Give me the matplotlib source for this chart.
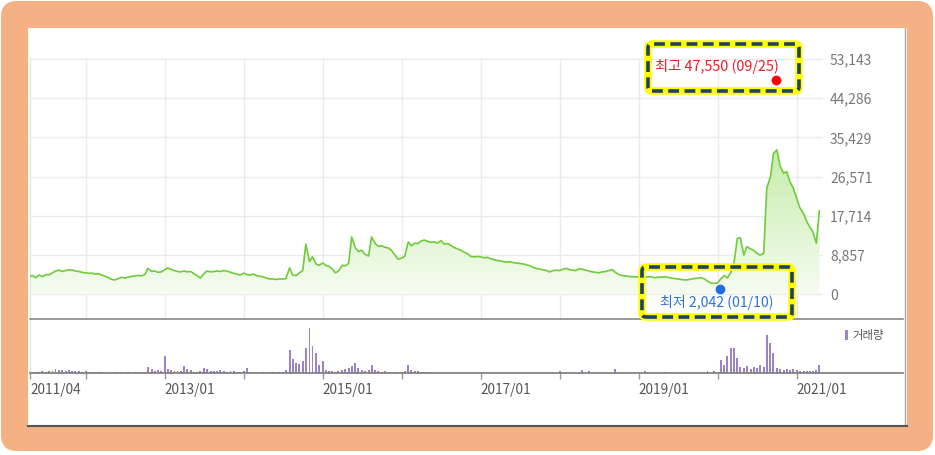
import numpy as np
import pandas as pd
import matplotlib
matplotlib.use('Agg')
import matplotlib.pyplot as plt
import matplotlib.dates as mdates
from matplotlib.patches import FancyBboxPatch, Rectangle
from matplotlib.lines import Line2D
from matplotlib.colors import LinearSegmentedColormap

plt.rcParams['font.family'] = ['Noto Sans CJK KR', 'DejaVu Sans']

# ---------------- data ----------------
start_date = '2011-04-15'   # semi-monthly samples
price = [
    3900, 4200, 3700, 4300, 3900, 4400, 4300, 4800, 5200, 5400,
    5100, 5300, 5500, 5400, 5200, 5100, 4900, 4800, 4700, 4700,
    4500, 4600, 4300, 4000, 3700, 3300, 3200, 3500, 3800, 3600,
    3800, 4000, 4100, 4200, 4100, 4400, 5800, 5100, 5200, 4900,
    5000, 5500, 5900, 5500, 5300, 5100, 5000, 5200, 5000, 5100,
    4600, 4100, 3600, 4600, 5200, 5000, 5100, 5200, 5100, 5300,
    5200, 4900, 4700, 4500, 4300, 4700, 4400, 4300, 4500, 4200,
    4000, 3900, 3600, 3400, 3400, 3300, 3400, 3400, 3500, 5900,
    4300, 4200, 4800, 5300, 11300, 7400, 8400, 6800, 6500, 7000,
    6500, 6200, 5600, 4800, 5200, 6500, 6400, 6900, 12900, 10500,
    9600, 9900, 9000, 8600, 12900, 11400, 10800, 10900, 10600, 10400,
    9900, 8800, 7900, 8100, 8500, 11800, 10900, 11500, 11400, 12000,
    12200, 11900, 11700, 11800, 11500, 12100, 11300, 11400, 11000, 10500,
    10200, 9900, 9500, 9100, 8500, 8400, 8500, 8400, 8200, 8300,
    8000, 7800, 7600, 7500, 7300, 7200, 7300, 7100, 7000, 6900,
    6800, 6600, 6400, 6000, 5800, 5600, 5500, 5300, 5000, 5300,
    5400, 5300, 5600, 5800, 5500, 5400, 5300, 5700, 5600, 5400,
    5200, 5000, 4900, 4800, 5000, 5100, 5300, 5500, 4900, 4400,
    4200, 4100, 4000, 3900, 3900, 3800, 3700, 3800, 3900, 3900,
    3700, 3800, 3800, 3900, 3800, 3600, 3500, 3400, 3300, 3200,
    3200, 3400, 3500, 3600, 3700, 3400, 2900, 2500, 2400, 2500,
    3400, 4200, 3600, 4800, 6500, 12600, 12700, 8800, 10700, 10200,
    9900, 9200, 8800, 9200, 24000, 26500, 31800, 32600, 29000, 27300,
    27700, 25300, 24000, 21500, 19500, 18200, 16500, 15200, 14200, 11500,
    18800,
]
volume = [
    0, 0, 1, 1, 2, 1, 2, 2, 4, 3,
    3, 2, 3, 2, 2, 2, 1, 2, 1, 1,
    1, 1, 1, 0, 0, 0, 1, 0, 1, 0,
    1, 0, 1, 1, 0, 1, 6, 4, 2, 3,
    2, 17, 4, 3, 2, 2, 2, 7, 4, 3,
    1, 1, 2, 5, 4, 2, 2, 2, 3, 2,
    1, 2, 2, 1, 1, 2, 5, 1, 0, 0,
    0, 1, 0, 1, 1, 0, 1, 1, 3, 23,
    14, 10, 9, 12, 25, 45, 27, 20, 8, 12,
    3, 2, 2, 1, 2, 3, 4, 5, 7, 10,
    5, 3, 2, 3, 8, 3, 2, 1, 2, 1,
    1, 1, 0, 1, 2, 8, 3, 2, 2, 1,
    1, 1, 1, 0, 0, 0, 0, 0, 0, 0,
    0, 0, 0, 0, 0, 0, 0, 0, 0, 0,
    0, 0, 0, 0, 0, 0, 0, 0, 0, 0,
    0, 0, 0, 0, 0, 0, 0, 0, 0, 0,
    0, 2, 0, 1, 0, 0, 0, 0, 3, 0,
    2, 0, 0, 0, 0, 0, 0, 0, 4, 0,
    0, 0, 0, 0, 0, 0, 0, 2, 0, 0,
    0, 0, 0, 1, 0, 0, 0, 0, 0, 0,
    0, 0, 0, 0, 0, 0, 2, 0, 2, 0,
    13, 8, 17, 25, 25, 15, 6, 5, 7, 4,
    6, 5, 8, 6, 38, 30, 20, 5, 4, 3,
    4, 3, 4, 3, 2, 2, 2, 2, 2, 3,
    8,
]
ytick_vals = [0, 8857, 17714, 26571, 35429, 44286, 53143]
ytick_labels = ['0', '8,857', '17,714', '26,571', '35,429', '44,286', '53,143']
grid_years = ['2012-01-01', '2013-01-01', '2014-01-01', '2015-01-01', '2016-01-01',
              '2017-01-01', '2018-01-01', '2019-01-01', '2020-01-01', '2021-01-01']
xtick_dates = ['2011-04-19'] + grid_years
xtick_labels = ['2011/04', '', '2013/01', '', '2015/01', '', '2017/01', '', '2019/01', '', '2021/01']
hi_text = '최고 47,550 (09/25)'
hi_date, hi_mark = '2020-09-25', 48400
lo_text = '최저 2,042 (01/10)'
lo_date, lo_mark = '2020-01-10', 1100
vol_label = '거래량'

# ---------------- figure ----------------
W, H = 935, 455
fig = plt.figure(figsize=(W / 100, H / 100), dpi=100)
fig.patch.set_facecolor('white')
inch = fig.dpi_scale_trans

def fx(x):
    return x / W

def fy(y):
    return 1 - y / H

# orange frame + white panel
fig.add_artist(FancyBboxPatch((0.01, 0.04), 9.32, 4.50, boxstyle='round,pad=0,rounding_size=0.16',
                              transform=inch, facecolor='#F4B183', edgecolor='none', zorder=-2))
fig.add_artist(Rectangle((0.28, 0.28), 8.79, 3.99, transform=inch, facecolor='white',
                         edgecolor='none', zorder=-1))

dates = pd.date_range(start_date, periods=len(price), freq='SMS')
xd = mdates.date2num(dates)
left = mdates.date2num(pd.Timestamp('2011-04-19'))
right = mdates.date2num(pd.Timestamp('2021-05-02'))
px_per_day = 793 / (right - left)

ax = fig.add_axes([fx(30), fy(319), 793 / W, 261 / H])
ax.set_zorder(2)
ax.set_facecolor('none')
line_color = '#6fcb3a'
poly = ax.fill_between(xd, price, 0, facecolor='none', edgecolor='none')
cmap = LinearSegmentedColormap.from_list('g', ['#f5fcf1', '#c6ecab'])
grad = np.linspace(1, 0, 256).reshape(-1, 1)
im = ax.imshow(grad, extent=[xd[0], xd[-1], 0, max(price)], aspect='auto', cmap=cmap,
               origin='upper', zorder=1, interpolation='bilinear')
im.set_clip_path(poly.get_paths()[0], transform=ax.transData)
ax.plot(xd, price, color=line_color, lw=1.2, zorder=3, solid_joinstyle='round')

ax.set_xlim(left, right)
ax.set_ylim(-5650, 53370)
ax.set_yticks(ytick_vals)
ax.set_yticklabels(ytick_labels)
ax.set_xticks(mdates.date2num(pd.to_datetime(grid_years)))
ax.set_xticklabels([])
ax.grid(True, color='#ebebeb', lw=1, zorder=0)
ax.set_axisbelow(True)
ax.tick_params(axis='x', length=0)
ax.tick_params(axis='y', length=0, pad=5, labelright=True, labelleft=False,
               labelsize=10, labelcolor='#777777')
for s in ['top', 'right', 'bottom']:
    ax.spines[s].set_visible(False)
ax.spines['left'].set_color('#e2e2e2')

# volume axes
axv = fig.add_axes([fx(30), fy(373), 873 / W, 54 / H])
axv.set_zorder(2)
axv.set_facecolor('none')
vright = left + 873 / px_per_day
axv.bar(xd, volume, width=9, color='#9b82c9', align='center', zorder=2)
axv.set_xlim(left, vright)
axv.set_ylim(0, 54)
axv.set_yticks([])
axv.set_xticks(mdates.date2num(pd.to_datetime(xtick_dates)))
axv.set_xticklabels(xtick_labels)
for lbl in axv.get_xticklabels():
    lbl.set_ha('left')
axv.tick_params(axis='x', length=4, width=1, color='#999999', pad=3, labelsize=9.8,
                labelcolor='#555555')
for s in ['top', 'right', 'left']:
    axv.spines[s].set_visible(False)
axv.spines['bottom'].set_color('#7a7a7a')
axv.spines['bottom'].set_linewidth(1.2)

# separator & borders
fig.add_artist(Line2D([fx(30), fx(903)], [fy(319), fy(319)], color='#7e7e7e', lw=1.1, zorder=6))
fig.add_artist(Line2D([fx(904.5), fx(904.5)], [fy(28), fy(426)], color='#aaaaaa', lw=1, zorder=6))
fig.add_artist(Line2D([fx(28), fx(907)], [fy(426), fy(426)], color='#555555', lw=1.5, zorder=6))
fig.add_artist(Line2D([fx(30), fx(30)], [fy(319), fy(373)], color='#e6e6e6', lw=1, zorder=1))

# volume legend
fig.add_artist(Rectangle((8.45, (H - 340) / 100), 0.03, 0.10, transform=inch,
                         facecolor='#9b82c9', edgecolor='none', zorder=6))
fig.text(fx(852), fy(335), vol_label, fontsize=8.2, color='#555555', va='center', ha='left')

# annotation boxes (transparent inside)
def dash_box(x0, y0, x1, y1):
    bx = (x0 / 100, (H - y1) / 100)
    w, h = (x1 - x0) / 100, (y1 - y0) / 100
    fig.add_artist(FancyBboxPatch(bx, w, h, boxstyle='round,pad=0,rounding_size=0.04',
                                  transform=inch, facecolor='none', edgecolor='#ffff00',
                                  lw=5.4, zorder=7))
    p = FancyBboxPatch(bx, w, h, boxstyle='round,pad=0,rounding_size=0.04',
                       transform=inch, facecolor='none', edgecolor='#1f4068',
                       lw=2.6, zorder=8)
    p.set_linestyle((0, (3.0, 1.5)))
    fig.add_artist(p)

dash_box(648, 44, 799, 91)
dash_box(642, 267, 792, 317)
fig.text(fx(655), fy(66), hi_text, fontsize=10.3, color='#ee1c25', va='center', ha='left', zorder=9)
fig.text(fx(660), fy(302), lo_text, fontsize=10.1, color='#2a72d8', va='center', ha='left', zorder=9)

# high / low dots
for d, v, c in [(hi_date, hi_mark, '#ff0000'), (lo_date, lo_mark, '#1f6fe0')]:
    disp = ax.transData.transform((mdates.date2num(pd.Timestamp(d)), v))
    fig.add_artist(Line2D([disp[0] / fig.bbox.width], [disp[1] / fig.bbox.height], marker='o',
                          color=c, ms=6, zorder=10, lw=0))

fig.savefig('out.png', dpi=100)
